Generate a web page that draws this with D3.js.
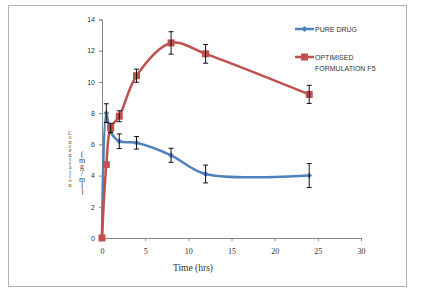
<!DOCTYPE html>
<html>
<head>
<meta charset="utf-8">
<script src="https://cdn.jsdelivr.net/npm/d3@7"></script>
<style>
  body { margin: 0; background: #fff; }
  svg { display: block; }
</style>
</head>
<body>
<svg id="chart" width="424" height="288"></svg>
<script>
// ---------------------------------------------
// Data
// ---------------------------------------------
let timeHrs = [0, 0.5, 1, 2, 4, 8, 12, 24];
let pureDrug = [0, 8.0, 6.8, 6.2, 6.1, 5.3, 4.1, 4.0];
let pureDrugErr = [0, 0.6, 0, 0.47, 0.4, 0.45, 0.57, 0.77];
let optimised = [0, 4.7, 7.05, 7.8, 10.4, 12.5, 11.8, 9.2];
let optimisedErr = [0, 0, 0.3, 0.35, 0.42, 0.72, 0.6, 0.58];
let xTicks = [0, 5, 10, 15, 20, 25, 30];
let yTicks = [0, 2, 4, 6, 8, 10, 12, 14];
let seriesNames = ['PURE DRUG', ['OPTIMISED', 'FORMULATION F5']];

let svg = d3.select('#chart');

// outer frame
svg.append('rect')
    .attr('x', 8.5).attr('y', 5.5)
    .attr('width', 398).attr('height', 281)
    .attr('fill', 'none')
    .attr('stroke', '#b3b3b3');

let scaleX = d3.scaleLinear().domain([0, 30]).range([102, 361]);
let scaleY = d3.scaleLinear().domain([0, 14]).range([238, 19.5]);

let axisColor = '#868686';

// y axis
let yAxis = svg.append('g')
    .attr('transform', 'translate(102,0)')
    .call(d3.axisLeft(scaleY).tickValues(yTicks).tickSize(3).tickPadding(4));
yAxis.selectAll('text')
    .attr('font-family', 'Liberation Sans, sans-serif')
    .attr('font-size', 7)
    .attr('fill', '#333');

// x axis
let xAxis = svg.append('g')
    .attr('transform', 'translate(0,238)')
    .call(d3.axisBottom(scaleX).tickValues(xTicks).tickSize(3).tickPadding(7));
xAxis.selectAll('text')
    .attr('font-family', 'Liberation Serif, serif')
    .attr('font-size', 8)
    .attr('fill', '#333');

svg.selectAll('.domain, .tick line').attr('stroke', axisColor);

// axis titles
svg.append('text')
    .attr('x', 193).attr('y', 271)
    .attr('text-anchor', 'middle')
    .attr('font-family', 'Liberation Serif, serif')
    .attr('font-size', 9.5)
    .attr('fill', '#333')
    .text('Time (hrs)');

// y title: two columns of stacked upright letters
let stackText = function(str, x, yTop, size, spacing) {
  svg.append('text')
      .attr('x', x).attr('y', yTop)
      .attr('font-family', 'Liberation Serif, serif')
      .attr('font-size', size)
      .attr('fill', '#444')
      .style('writing-mode', 'vertical-rl')
      .style('text-orientation', 'upright')
      .style('letter-spacing', spacing + 'px')
      .text(str);
};
stackText('Concentration', 70, 130, 6, -1.7);
stackText('(mg/ml)', 82, 150, 8, -2.8);

// ---------------------------------------------
// Series
// ---------------------------------------------
let series = [
  {name: seriesNames[0], values: pureDrug, err: pureDrugErr, color: '#4f81bd', marker: 'diamond'},
  {name: seriesNames[1], values: optimised, err: optimisedErr, color: '#c0504d', marker: 'square'}
];

let line = d3.line()
    .x((d) => scaleX(d.t))
    .y((d) => scaleY(d.v))
    .curve(d3.curveCatmullRom.alpha(0.5));

let drawMarker = function(g, kind, x, y, color) {
  if (kind === 'square') {
    g.append('rect')
        .attr('x', x - 3.5).attr('y', y - 3.5)
        .attr('width', 7).attr('height', 7)
        .attr('fill', color);
  } else {
    g.append('path')
        .attr('d', d3.symbol(d3.symbolDiamond2, 22)())
        .attr('transform', 'translate(' + x + ',' + y + ')')
        .attr('fill', color);
  }
};

series.forEach((s) => {
  let pts = timeHrs.map((t, i) => ({t: t, v: s.values[i], e: s.err[i]}));
  let g = svg.append('g');

  g.append('path')
      .datum(pts)
      .attr('d', line)
      .attr('fill', 'none')
      .attr('stroke', s.color)
      .attr('stroke-width', 2.5);

  pts.forEach((p) => drawMarker(g, s.marker, scaleX(p.t), scaleY(p.v), s.color));

  // error bars
  let eb = g.selectAll('g.err').data(pts.filter((p) => p.e > 0))
      .join('g').attr('class', 'err')
      .attr('stroke', '#111').attr('stroke-width', 1);
  eb.append('line')
      .attr('x1', (p) => scaleX(p.t)).attr('x2', (p) => scaleX(p.t))
      .attr('y1', (p) => scaleY(p.v + p.e)).attr('y2', (p) => scaleY(p.v - p.e));
  eb.append('line')
      .attr('x1', (p) => scaleX(p.t) - 2.5).attr('x2', (p) => scaleX(p.t) + 2.5)
      .attr('y1', (p) => scaleY(p.v + p.e)).attr('y2', (p) => scaleY(p.v + p.e));
  eb.append('line')
      .attr('x1', (p) => scaleX(p.t) - 2.5).attr('x2', (p) => scaleX(p.t) + 2.5)
      .attr('y1', (p) => scaleY(p.v - p.e)).attr('y2', (p) => scaleY(p.v - p.e));
});

// ---------------------------------------------
// Legend
// ---------------------------------------------
let legendY = [29, 57];
series.forEach((s, i) => {
  let g = svg.append('g');
  let y = legendY[i];
  g.append('line')
      .attr('x1', 295).attr('x2', 314)
      .attr('y1', y).attr('y2', y)
      .attr('stroke', s.color).attr('stroke-width', 2.5);
  drawMarker(g, s.marker, 304.5, y, s.color);
  let names = Array.isArray(s.name) ? s.name : [s.name];
  names.forEach((n, j) => {
    g.append('text')
        .attr('x', 315).attr('y', y + 2.5 + j * 11.5)
        .attr('font-family', 'Liberation Sans, sans-serif')
        .attr('font-size', 7)
        .attr('fill', '#333')
        .text(n);
  });
});
</script>
</body>
</html>
